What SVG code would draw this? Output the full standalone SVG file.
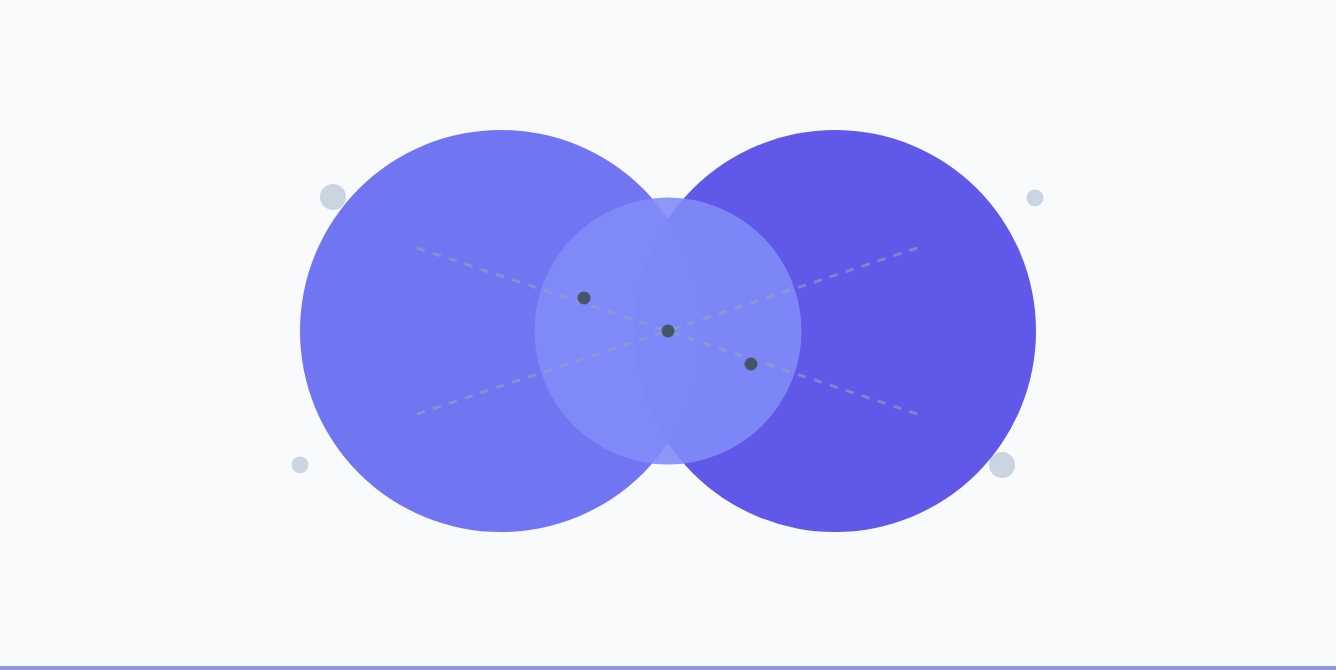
<svg xmlns="http://www.w3.org/2000/svg" width="1336" height="670" viewBox="0 0 1336 670">
<style>
.dash{stroke:#94a3b8;stroke-width:3;stroke-dasharray:8.365 8.365;opacity:0.6;fill:none}
.dot{fill:#475569}
.deco{fill:#cbd5e1}
</style>
<rect width="1336" height="670" fill="#f8fafc"/>
<g id="deco">
<circle class="deco" cx="333" cy="197" r="13"/>
<circle class="deco" cx="1035" cy="198" r="8.5"/>
<circle class="deco" cx="300" cy="465" r="8.5"/>
<circle class="deco" cx="1002" cy="465" r="13"/>
</g>
<g id="circle-right"><circle cx="835" cy="331" r="201" fill="#4f46e5" opacity="0.9"/></g>
<g id="circle-left"><circle cx="501" cy="331" r="201" fill="#6366f1" opacity="0.9"/></g>
<g id="circle-middle"><circle cx="668" cy="331" r="133.5" fill="#818cf8" opacity="0.9"/></g>
<g id="connectors">
<line class="dash" x1="417" y1="248" x2="917" y2="414"/>
<line class="dash" x1="417" y1="414" x2="917" y2="248"/>
</g>
<g id="points">
<circle class="dot" cx="584" cy="298" r="6.5"/>
<circle class="dot" cx="668" cy="331" r="6.5"/>
<circle class="dot" cx="751" cy="364" r="6.5"/>
</g>
<rect x="0" y="666" width="1336" height="4" fill="#9297e2"/>
</svg>
